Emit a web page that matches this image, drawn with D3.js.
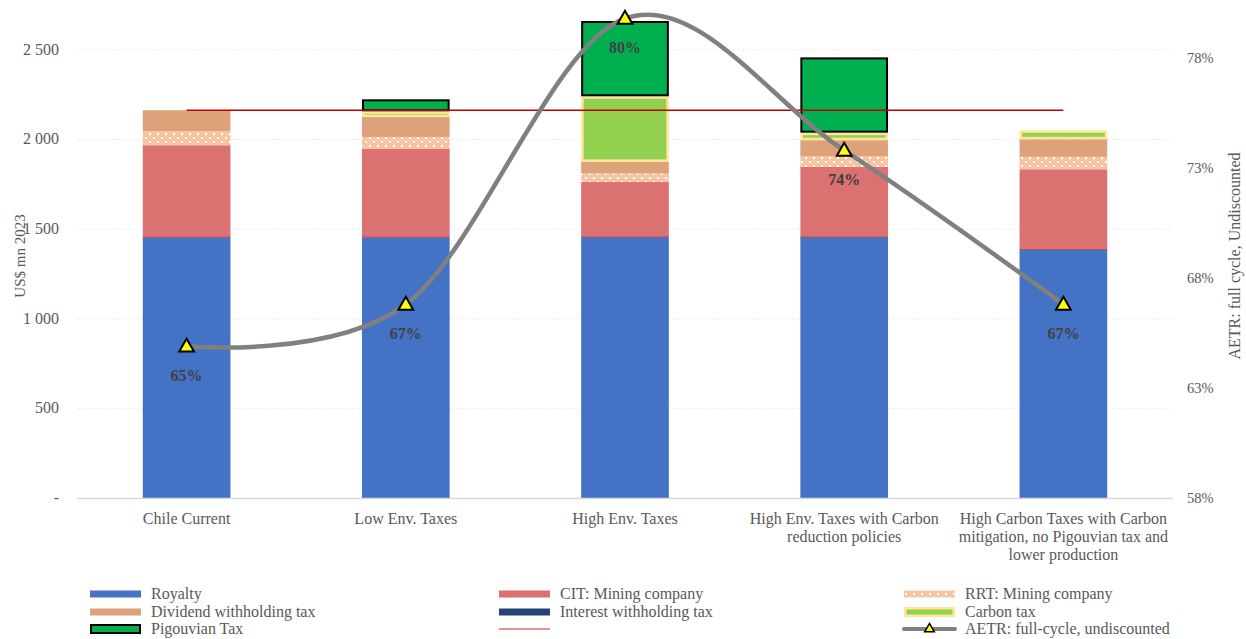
<!DOCTYPE html>
<html>
<head>
<meta charset="utf-8">
<script src="https://cdn.jsdelivr.net/npm/d3@7"></script>
<style>
  html, body { margin: 0; padding: 0; background: #fff; }
  svg { display: block; font-family: "Liberation Serif", "Times New Roman", serif; }
</style>
</head>
<body>
<svg id="chart" width="1246" height="639"></svg>
<script>
// Scenario labels (line breaks mark where each label wraps)
const categories = [
  "Chile Current",
  "Low Env. Taxes",
  "High Env. Taxes",
  "High Env. Taxes with Carbon\nreduction policies",
  "High Carbon Taxes with Carbon\nmitigation, no Pigouvian tax and\nlower production"
];

// Government take by instrument, US$ mn 2023
const royalty   = [1455, 1455, 1456, 1456, 1386];
const cit       = [513, 492, 307, 391, 448];
const rrt       = [78, 67, 47, 59, 69];
const dividend  = [117, 111, 65, 90, 98];
const interest  = [0, 0, 0, 0, 0];
const carbon    = [0, 32, 366, 42, 50];
const pigouvian = [0, 67, 420, 420, 0];

// Average effective tax rate, full cycle, undiscounted
const aetr = [0.649, 0.668, 0.798, 0.738, 0.668];

// Axis ticks
const leftTicks  = [0, 500, 1000, 1500, 2000, 2500];
const rightTicks = [0.58, 0.63, 0.68, 0.73, 0.78];

const seriesNames = ["Royalty", "CIT: Mining company", "RRT: Mining company",
  "Dividend withholding tax", "Interest withholding tax", "Carbon tax", "Pigouvian Tax"];
const seriesValues = [royalty, cit, rrt, dividend, interest, carbon, pigouvian];

const svg = d3.select("#chart");
const defs = svg.append("defs");

// Dotted fill for the resource rent tax
const pat = defs.append("pattern").attr("id", "rrtDots")
  .attr("patternUnits", "userSpaceOnUse").attr("width", 8).attr("height", 8);
pat.append("rect").attr("width", 8).attr("height", 8).attr("fill", "#F6C4A2");
pat.append("rect").attr("x", 1).attr("y", 1).attr("width", 2).attr("height", 2).attr("fill", "#fff");
pat.append("rect").attr("x", 5).attr("y", 5).attr("width", 2).attr("height", 2).attr("fill", "#fff");

const styles = {
  "Royalty":                  { fill: "#4472C4", stroke: "none", sw: 0 },
  "CIT: Mining company":      { fill: "#DB7170", stroke: "none", sw: 0 },
  "RRT: Mining company":      { fill: "url(#rrtDots)", stroke: "none", sw: 0 },
  "Dividend withholding tax": { fill: "#DDA27A", stroke: "none", sw: 0 },
  "Interest withholding tax": { fill: "#264478", stroke: "none", sw: 0 },
  "Carbon tax":               { fill: "#92D050", stroke: "#FFE699", sw: 2.5 },
  "Pigouvian Tax":            { fill: "#00B050", stroke: "#000", sw: 2 }
};

const plot = { left: 77, right: 1173, top: 14, bottom: 498 };

const x = d3.scaleBand().domain(d3.range(categories.length))
  .range([plot.left, plot.right]).paddingInner(0.6).paddingOuter(0.3);
const y = d3.scaleLinear().domain([0, 2700]).range([plot.bottom, plot.top]);
const y2 = d3.scaleLinear().domain([0.58, 0.80]).range([plot.bottom, plot.top]);

// Gridlines
svg.append("g").selectAll("line").data(leftTicks.filter(d => d > 0)).join("line")
  .attr("x1", plot.left).attr("x2", plot.right)
  .attr("y1", d => y(d)).attr("y2", d => y(d))
  .attr("stroke", "#EFEFEF").attr("stroke-width", 1).attr("stroke-dasharray", "3,2");

// Stacked bars
const rows = categories.map((c, i) => {
  const r = { i };
  seriesNames.forEach((s, k) => r[s] = seriesValues[k][i]);
  return r;
});
const stacked = d3.stack().keys(seriesNames)(rows);

const barG = svg.append("g");
stacked.forEach(layer => {
  const st = styles[layer.key];
  barG.append("g").selectAll("rect").data(layer.filter(d => d[1] - d[0] > 0)).join("rect")
    .attr("x", d => x(d.data.i) + st.sw / 2)
    .attr("width", x.bandwidth() - st.sw)
    .attr("y", d => y(d[1]) + st.sw / 2)
    .attr("height", d => Math.max(0, y(d[0]) - y(d[1]) - st.sw))
    .attr("fill", st.fill)
    .attr("stroke", st.stroke)
    .attr("stroke-width", st.sw);
});

// Thin seam where the royalty block meets the CIT block
barG.append("g").selectAll("line").data(royalty).join("line")
  .attr("x1", (d, i) => x(i)).attr("x2", (d, i) => x(i) + x.bandwidth())
  .attr("y1", d => y(d)).attr("y2", d => y(d))
  .attr("stroke", "#B4525E").attr("stroke-width", 1);

// Category axis line
svg.append("line").attr("x1", plot.left).attr("x2", plot.right)
  .attr("y1", plot.bottom + 0.5).attr("y2", plot.bottom + 0.5)
  .attr("stroke", "#D9D9D9").attr("stroke-width", 1.5);

// Reference line at the current-regime total
const baseTotal = seriesValues.reduce((s, arr) => s + arr[0], 0);
svg.append("line")
  .attr("x1", x(0) + x.bandwidth() / 2).attr("x2", x(categories.length - 1) + x.bandwidth() / 2)
  .attr("y1", y(baseTotal)).attr("y2", y(baseTotal))
  .attr("stroke", "#C00000").attr("stroke-width", 1.3);

// AETR line
const cx = i => x(i) + x.bandwidth() / 2;
const line = d3.line().x((d, i) => cx(i)).y(d => y2(d)).curve(d3.curveCardinal.tension(0));
svg.append("path").datum(aetr).attr("d", line)
  .attr("fill", "none").attr("stroke", "#808080").attr("stroke-width", 4.5)
  .attr("stroke-linejoin", "round");

const tri = d3.symbol().type(d3.symbolTriangle).size(95);
svg.append("g").selectAll("path").data(aetr).join("path")
  .attr("transform", (d, i) => `translate(${cx(i)},${y2(d) + 1})`)
  .attr("d", tri).attr("fill", "#FFFF00").attr("stroke", "#000").attr("stroke-width", 2);

const pct = d3.format(".0%");
svg.append("g").selectAll("text").data(aetr).join("text")
  .attr("x", (d, i) => cx(i)).attr("y", d => y2(d) + 35)
  .attr("text-anchor", "middle").attr("font-size", 16).attr("font-weight", "bold")
  .attr("fill", "#404040").text(d => pct(d));

// Left axis labels
const numFmt = d => d === 0 ? "-" : d3.format(",")(d).replace(/,/g, " ");
svg.append("g").selectAll("text").data(leftTicks).join("text")
  .attr("x", 59).attr("y", d => y(d) + 5).attr("text-anchor", "end")
  .attr("font-size", 16).attr("fill", "#595959").text(numFmt);

// Right axis labels
svg.append("g").selectAll("text").data(rightTicks).join("text")
  .attr("x", 1187).attr("y", d => y2(d) + 5)
  .attr("font-size", 14.5).attr("fill", "#595959").text(d => pct(d));

// Axis titles
svg.append("text").attr("transform", `translate(25,${(plot.top + plot.bottom) / 2}) rotate(-90)`)
  .attr("text-anchor", "middle").attr("font-size", 15).attr("fill", "#595959").text("US$ mn 2023");
svg.append("text").attr("transform", `translate(1240,${(plot.top + plot.bottom) / 2}) rotate(-90)`)
  .attr("text-anchor", "middle").attr("font-size", 16).attr("fill", "#595959")
  .text("AETR: full cycle, Undiscounted");

// Category labels
const catG = svg.append("g").selectAll("text").data(categories).join("text")
  .attr("x", (d, i) => cx(i)).attr("y", 524).attr("text-anchor", "middle")
  .attr("font-size", 16).attr("fill", "#595959");
catG.each(function (d, i) {
  d3.select(this).selectAll("tspan").data(d.split("\n")).join("tspan")
    .attr("x", cx(i)).attr("dy", (t, j) => j === 0 ? 0 : 18).text(t => t);
});

// Legend
const legendItems = [
  { name: "Royalty", kind: "bar", col: 0, row: 0 },
  { name: "CIT: Mining company", kind: "bar", col: 1, row: 0 },
  { name: "RRT: Mining company", kind: "bar", col: 2, row: 0 },
  { name: "Dividend withholding tax", kind: "bar", col: 0, row: 1 },
  { name: "Interest withholding tax", kind: "bar", col: 1, row: 1 },
  { name: "Carbon tax", kind: "bar", col: 2, row: 1 },
  { name: "Pigouvian Tax", kind: "bar", col: 0, row: 2 },
  { name: "", kind: "ref", col: 1, row: 2 },
  { name: "AETR: full-cycle, undiscounted", kind: "aetr", col: 2, row: 2 }
];
const colX = [90, 499, 904];
const rowY = [594, 612, 629];
const lg = svg.append("g");
legendItems.forEach(it => {
  const x0 = colX[it.col], yc = rowY[it.row], w = 51;
  if (it.kind === "bar") {
    const st = styles[it.name];
    const h = st.sw ? 10 : 7;
    lg.append("rect").attr("x", x0 + st.sw / 2).attr("y", yc - h / 2 + st.sw / 2)
      .attr("width", w - st.sw).attr("height", h - st.sw)
      .attr("fill", st.fill).attr("stroke", st.stroke).attr("stroke-width", st.sw);
  } else if (it.kind === "ref") {
    lg.append("line").attr("x1", x0).attr("x2", x0 + w).attr("y1", yc).attr("y2", yc)
      .attr("stroke", "#E07070").attr("stroke-width", 1.3);
  } else {
    lg.append("line").attr("x1", x0).attr("x2", x0 + w).attr("y1", yc).attr("y2", yc)
      .attr("stroke", "#808080").attr("stroke-width", 4).attr("stroke-linecap", "round");
    lg.append("path").attr("transform", `translate(${x0 + w / 2},${yc})`)
      .attr("d", d3.symbol().type(d3.symbolTriangle).size(40))
      .attr("fill", "#FFFF00").attr("stroke", "#000").attr("stroke-width", 1.5);
  }
  lg.append("text").attr("x", x0 + w + 10).attr("y", yc + 5)
    .attr("font-size", 16).attr("fill", "#595959").text(it.name);
});
</script>
</body>
</html>
